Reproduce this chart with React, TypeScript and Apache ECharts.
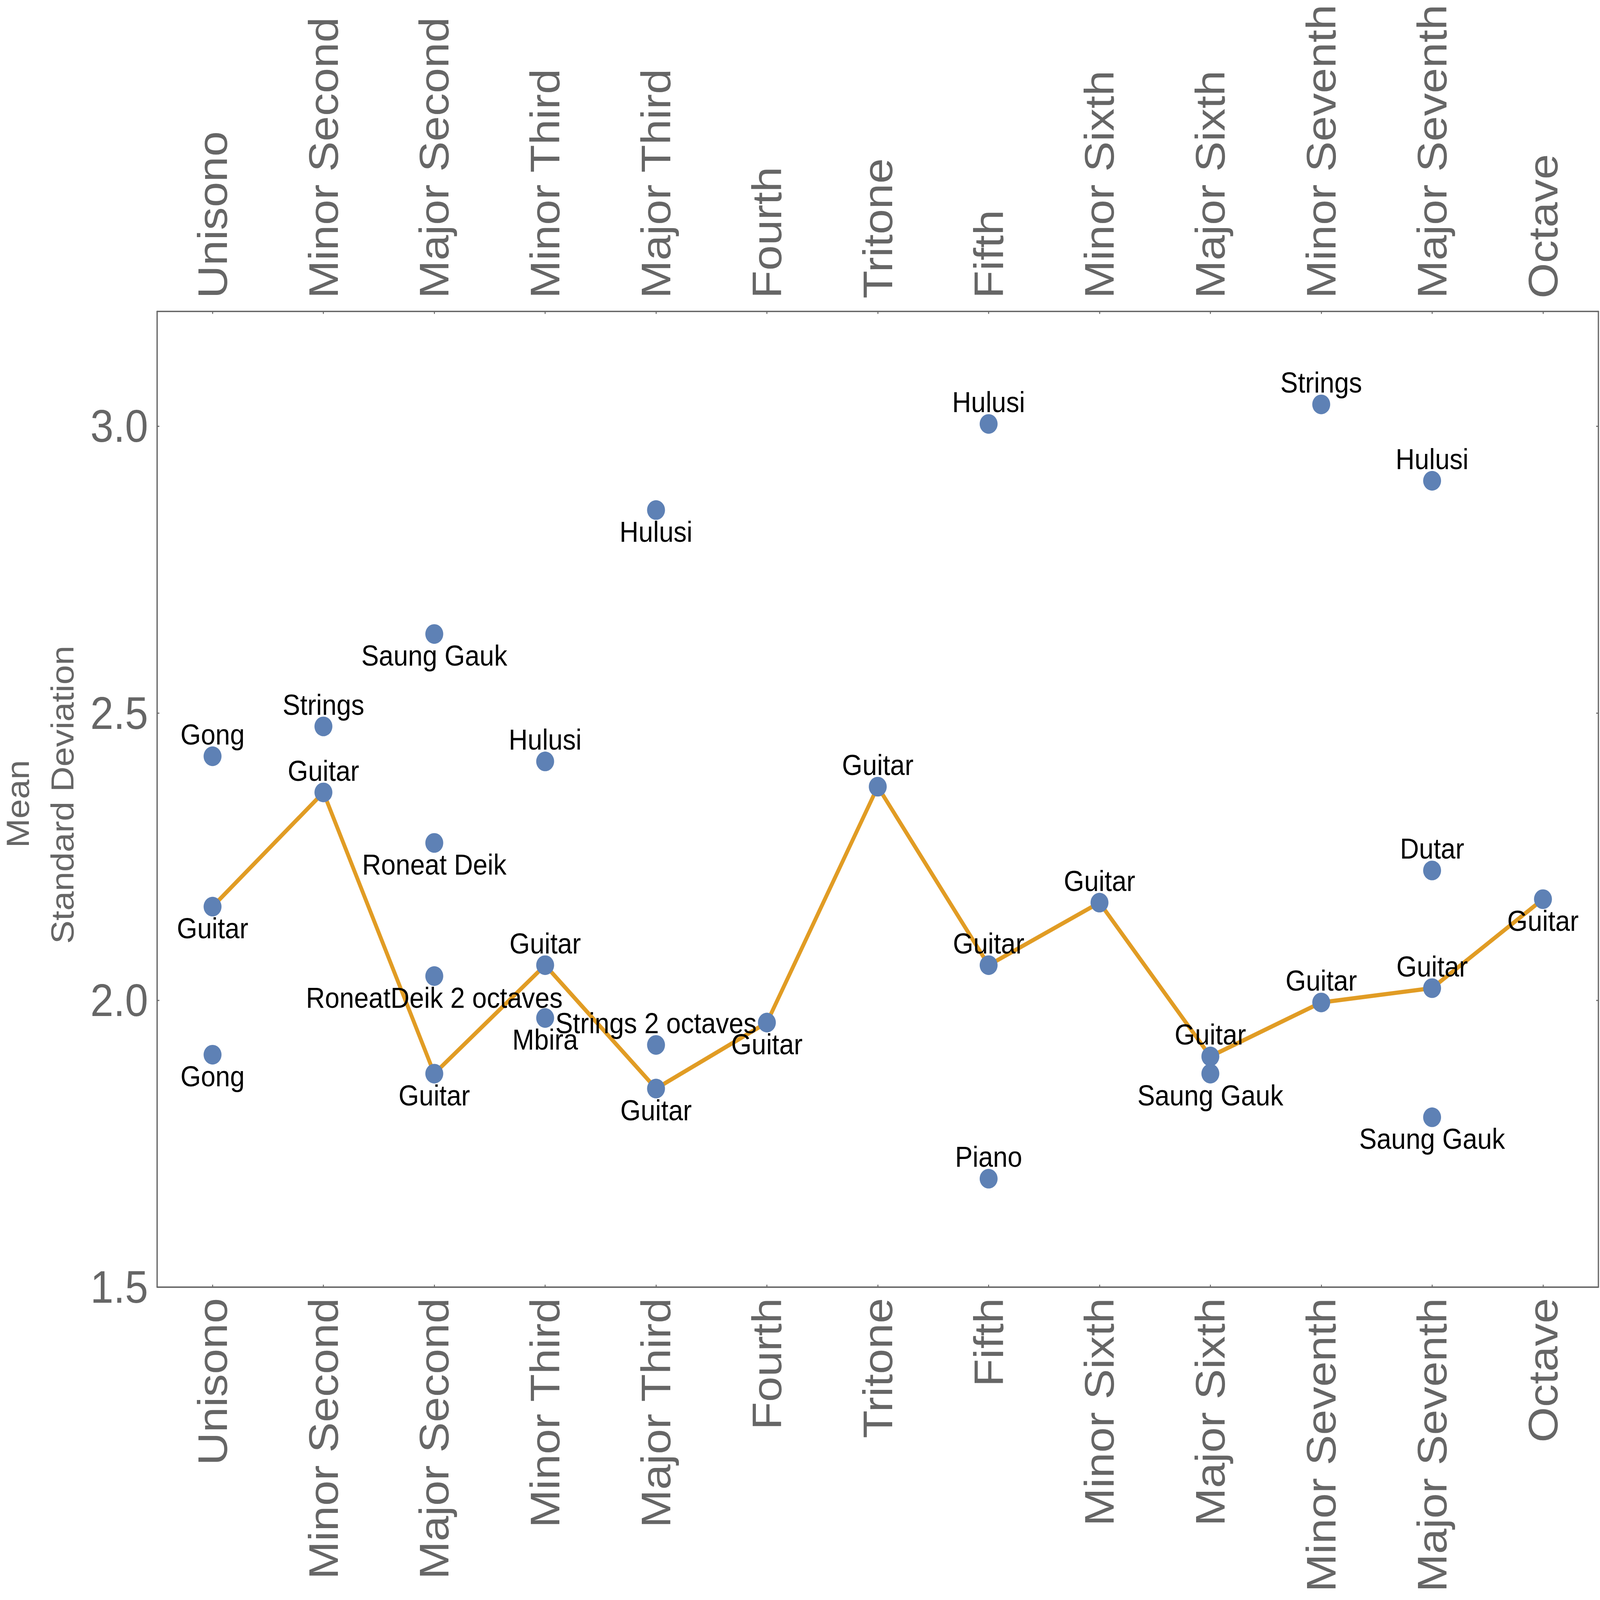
import React, { useEffect, useRef } from "react";
import * as echarts from "echarts";

const categories = [
  "Unisono", "Minor Second", "Major Second", "Minor Third", "Major Third", "Fourth",
  "Tritone", "Fifth", "Minor Sixth", "Major Sixth", "Minor Seventh", "Major Seventh", "Octave",
];

// Guitar means (connected line)
const guitarValues = [2.163, 2.362, 1.872, 2.061, 1.846, 1.961, 2.372, 2.061, 2.170, 1.902, 1.996, 2.021, 2.176];
const guitarLabelSide = ["below", "above", "below", "above", "below", "below", "above", "above", "above", "above", "above", "above", "below"];

// Other instruments
const otherIntervals = [
  "Unisono", "Unisono", "Minor Second", "Major Second", "Major Second", "Major Second",
  "Minor Third", "Minor Third", "Major Third", "Major Third", "Fifth", "Fifth",
  "Major Sixth", "Minor Seventh", "Major Seventh", "Major Seventh", "Major Seventh",
];
const otherNames = [
  "Gong", "Gong", "Strings", "Saung Gauk", "Roneat Deik", "RoneatDeik 2 octaves",
  "Hulusi", "Mbira", "Hulusi", "Strings 2 octaves", "Hulusi", "Piano",
  "Saung Gauk", "Strings", "Hulusi", "Dutar", "Saung Gauk",
];
const otherValues = [2.425, 1.905, 2.477, 2.638, 2.274, 2.042, 2.416, 1.969, 2.854, 1.922, 3.004, 1.689, 1.872, 3.038, 2.905, 2.226, 1.796];
const otherLabelSide = [
  "above", "below", "above", "below", "below", "below",
  "above", "below", "below", "above", "above", "above",
  "below", "above", "above", "above", "below",
];

const yMin = 1.5;
const yMax = 3.2;
const yStep = 0.5;

const yTitleLines = ["Mean", "Standard Deviation"];

const FONT = "'Liberation Sans', Arial, Helvetica, sans-serif";
const GRAY = "#666666";
const BLUE = "#5E81B5";
const ORANGE = "#E19C24";
const LABEL_OFFSET = 62;

// design size of the chart
const REF_W = 5000;
const REF_H = 4562;

function App() {
  const ref = useRef<HTMLDivElement>(null);
  const vw = typeof window !== "undefined" && window.innerWidth ? window.innerWidth : REF_W;
  const vh = typeof window !== "undefined" && window.innerHeight ? window.innerHeight : REF_H;
  const sx = vw / REF_W;
  const sy = vh / REF_H;

  useEffect(() => {
    document.body.style.margin = "0";
    document.body.style.overflow = "hidden";
    if (!ref.current) return;
    const chart = echarts.init(ref.current, null, { renderer: "svg" });

    const xAxisBase = (position: "top" | "bottom", margin: number, rotate: number) => ({
      type: "category",
      data: categories,
      position,
      boundaryGap: true,
      axisLine: { show: true, onZero: false, lineStyle: { color: GRAY, width: 4 } },
      axisTick: { show: true, inside: true, alignWithLabel: true, length: 7, lineStyle: { color: GRAY, width: 3 } },
      axisLabel: { show: true, rotate, interval: 0, fontSize: 130, color: GRAY, fontFamily: FONT, margin },
      splitLine: { show: false },
    });

    const yAxisBase = (position: "left" | "right", showLabel: boolean) => ({
      type: "value",
      min: yMin,
      max: yMax,
      interval: yStep,
      position,
      axisLine: { show: true, onZero: false, lineStyle: { color: GRAY, width: 4 } },
      axisTick: { show: true, inside: true, length: 7, lineStyle: { color: GRAY, width: 3 } },
      axisLabel: {
        show: showLabel,
        fontSize: 130,
        color: GRAY,
        fontFamily: FONT,
        margin: 28,
        showMaxLabel: false,
        formatter: (v: number) => v.toFixed(1),
      },
      splitLine: { show: false },
    });

    const labelStyle = {
      show: true,
      position: "inside",
      formatter: "{b}",
      fontSize: 82,
      color: "#000000",
      fontFamily: FONT,
    };

    const guitarPoints = guitarValues.map((v, i) => ({
      name: "Guitar",
      value: [i, v],
      label: { offset: [0, guitarLabelSide[i] === "above" ? -LABEL_OFFSET : LABEL_OFFSET] },
    }));

    const otherPoints = otherValues.map((v, i) => ({
      name: otherNames[i],
      value: [categories.indexOf(otherIntervals[i]), v],
      label: { offset: [0, otherLabelSide[i] === "above" ? -LABEL_OFFSET : LABEL_OFFSET] },
    }));

    const option = {
      animation: false,
      backgroundColor: "#ffffff",
      grid: { left: 491, right: 5, top: 888, bottom: 892, containLabel: false },
      // ECharts negates label rotation on a top axis, so -90 reads bottom-to-top like the bottom axis
      xAxis: [xAxisBase("bottom", 31, 90), xAxisBase("top", 37, -90)],
      yAxis: [yAxisBase("left", true), yAxisBase("right", false)],
      graphic: [
        {
          type: "text",
          x: 55,
          y: 2292,
          rotation: Math.PI / 2,
          style: { text: yTitleLines[0], fontSize: 100, fontFamily: FONT, fill: GRAY, align: "center", verticalAlign: "middle" },
        },
        {
          type: "text",
          x: 195,
          y: 2266,
          rotation: Math.PI / 2,
          style: { text: yTitleLines[1], fontSize: 100, fontFamily: FONT, fill: GRAY, align: "center", verticalAlign: "middle" },
        },
      ],
      series: [
        {
          type: "line",
          name: "Guitar line",
          xAxisIndex: 0,
          yAxisIndex: 0,
          data: guitarValues,
          symbol: "none",
          lineStyle: { color: ORANGE, width: 12 },
          z: 2,
          silent: true,
        },
        {
          type: "scatter",
          name: "Guitar",
          xAxisIndex: 0,
          yAxisIndex: 0,
          data: guitarPoints,
          symbol: "circle",
          symbolSize: 56,
          itemStyle: { color: BLUE, opacity: 1 },
          label: labelStyle,
          z: 3,
        },
        {
          type: "scatter",
          name: "Others",
          xAxisIndex: 0,
          yAxisIndex: 0,
          data: otherPoints,
          symbol: "circle",
          symbolSize: 56,
          itemStyle: { color: BLUE, opacity: 1 },
          label: labelStyle,
          z: 3,
        },
      ],
    };

    chart.setOption(option as any);
    return () => {
      chart.dispose();
    };
  }, []);

  return (
    <div
      ref={ref}
      style={{
        width: REF_W,
        height: REF_H,
        transform: `scale(${sx}, ${sy})`,
        transformOrigin: "0 0",
      }}
    />
  );
}

export default App;
